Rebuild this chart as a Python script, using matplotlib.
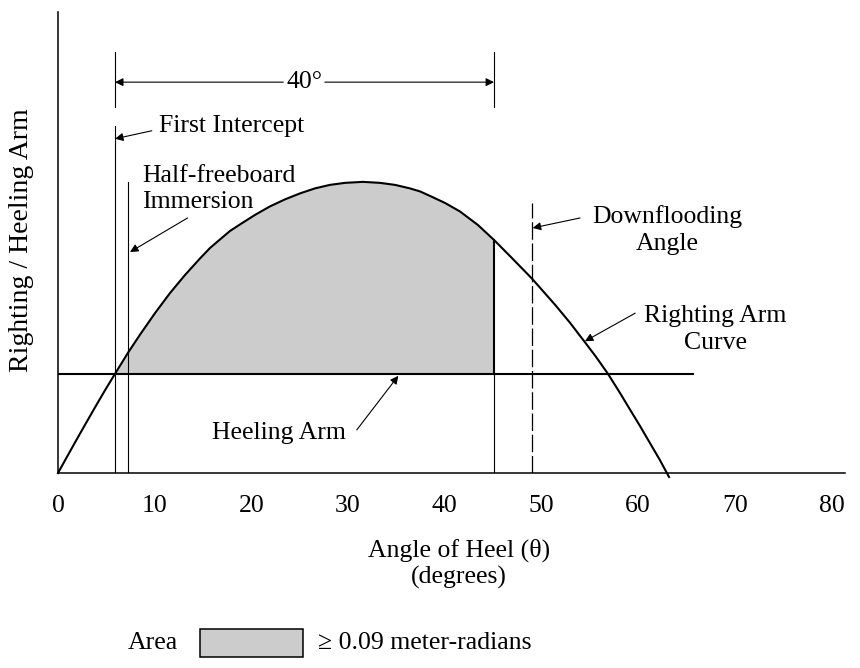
import matplotlib
matplotlib.use("Agg")
import matplotlib.pyplot as plt
from matplotlib.patches import Rectangle

plt.rcParams['font.family'] = ['Liberation Serif', 'DejaVu Serif']
FS = 18.5

# Righting arm curve (angle in degrees, arm in metres)
heel_deg = [0.0, 0.72, 1.76, 2.79, 3.83, 4.86, 5.9, 7.24, 8.48, 10.03, 11.58,
            13.13, 14.68, 15.72, 16.75, 17.79, 18.82, 20.37, 21.92, 23.47,
            25.03, 26.58, 28.13, 29.68, 31.54, 33.30, 34.85, 36.40, 37.44,
            38.47, 40.02, 41.57, 43.43, 45.1, 46.95, 49.02, 51.40, 52.95,
            54.50, 55.64, 56.88, 58.12, 59.15, 60.19, 61.22, 62.25, 63.2]
righting_arm = [0.000, 0.025, 0.061, 0.096, 0.131, 0.165, 0.198, 0.240, 0.276,
                0.319, 0.359, 0.395, 0.428, 0.449, 0.466, 0.483, 0.496, 0.515,
                0.532, 0.546, 0.558, 0.568, 0.575, 0.579, 0.581, 0.579, 0.575,
                0.568, 0.562, 0.553, 0.539, 0.522, 0.495, 0.465, 0.429, 0.388,
                0.336, 0.300, 0.261, 0.232, 0.198, 0.160, 0.127, 0.094, 0.060,
                0.026, -0.008]

heeling_arm = 0.198
heeling_end = 65.7
first_intercept = 5.9
half_freeboard = 7.2
limit_angle = 45.1
downflooding = 49.0

x_ticks = [0, 10, 20, 30, 40, 50, 60, 70, 80]


def arm_at(x):
    # value of the read curve at one of its own sample angles
    return righting_arm[heel_deg.index(x)]


fig = plt.figure(figsize=(8.6, 6.68), dpi=100)
ax = fig.add_axes([58 / 860, (668 - 473) / 668, 787 / 860, 461 / 668])
ax.set_xlim(0, 81.4)
ax.set_ylim(0, 0.92)

# shaded area between righting arm and heeling arm
xs = [x for x in heel_deg if first_intercept <= x <= limit_angle]
ys = [arm_at(x) for x in xs]
ax.fill_between(xs, ys, heeling_arm, color="#cccccc", lw=0)

ax.plot(heel_deg, righting_arm, color="black", lw=1.5, clip_on=False,
        solid_joinstyle="round")
ax.plot([0, heeling_end], [heeling_arm, heeling_arm], color="black", lw=1.5)

# vertical reference lines
ax.plot([first_intercept, first_intercept], [0, 0.693], color="black", lw=0.8)
ax.plot([half_freeboard, half_freeboard], [0, 0.581], color="black", lw=0.8)
ax.plot([limit_angle, limit_angle], [0, heeling_arm], color="black", lw=0.8)
ax.plot([limit_angle, limit_angle], [heeling_arm, arm_at(limit_angle)],
        color="black", lw=1.5)
ax.plot([downflooding, downflooding], [0, 0.539], color="black", lw=0.9,
        dashes=(14, 3))

# 40 degree dimension
for xv in (first_intercept, limit_angle):
    ax.plot([xv, xv], [0.731, 0.840], color="black", lw=0.8)
arrow = dict(arrowstyle="-|>", color="black", lw=0.8, mutation_scale=12,
             shrinkA=0, shrinkB=0)
ax.annotate("", xy=(first_intercept, 0.780), xytext=(23.3, 0.780), arrowprops=arrow)
ax.annotate("", xy=(limit_angle, 0.780), xytext=(27.6, 0.780), arrowprops=arrow)
ax.text(25.45, 0.780, "40°", ha="center", va="center", fontsize=FS)

# labels with leaders
ax.text(10.4, 0.693, "First Intercept", ha="left", va="center", fontsize=FS)
ax.annotate("", xy=(first_intercept, 0.667), xytext=(9.7, 0.683), arrowprops=arrow)
ax.text(8.7, 0.567, "Half-freeboard\nImmersion", ha="left", va="center",
        fontsize=FS, linespacing=1.28)
ax.annotate("", xy=(7.45, 0.441), xytext=(13.4, 0.509), arrowprops=arrow)
ax.text(63.0, 0.485, "Downflooding\nAngle", ha="center", va="center",
        fontsize=FS, linespacing=1.28)
ax.annotate("", xy=(49.1, 0.489), xytext=(54.0, 0.509), arrowprops=arrow)
ax.text(68.0, 0.287, "Righting Arm\nCurve", ha="center", va="center",
        fontsize=FS, linespacing=1.3)
ax.annotate("", xy=(54.5, 0.263), xytext=(59.7, 0.319), arrowprops=arrow)
ax.text(22.85, 0.080, "Heeling Arm", ha="center", va="center", fontsize=FS)
ax.annotate("", xy=(35.2, 0.194), xytext=(30.9, 0.086), arrowprops=arrow)

# axes styling
for side in ("top", "right"):
    ax.spines[side].set_visible(False)
for side in ("left", "bottom"):
    ax.spines[side].set_linewidth(1.1)
ax.set_xticks(x_ticks)
ax.set_xticklabels([str(t) for t in x_ticks], fontsize=FS)
ax.set_yticks([])
ax.tick_params(axis="x", length=0, pad=16)

ax.set_xlabel("Angle of Heel (θ)\n(degrees)", fontsize=FS, linespacing=1.2)
ax.xaxis.set_label_coords((459 - 58) / 787, -(564 - 473) / 461)
ax.xaxis.label.set_va("center")
ax.set_ylabel("Righting / Heeling Arm", fontsize=FS + 1.5)
ax.yaxis.set_label_coords(-(58 - 21) / 787, (473 - 240) / 461)
ax.yaxis.label.set_va("center")

# legend row
fig.text(178 / 860, (668 - 643) / 668, "Area", ha="right", va="center", fontsize=FS)
fig.patches.append(Rectangle((200 / 860, (668 - 657) / 668), 103 / 860, 28 / 668,
                             transform=fig.transFigure, facecolor="#cccccc",
                             edgecolor="black", lw=1.1))
fig.text(318 / 860, (668 - 643) / 668, "≥ 0.09 meter-radians", ha="left",
         va="center", fontsize=FS)

fig.savefig("out.png", dpi=100)
